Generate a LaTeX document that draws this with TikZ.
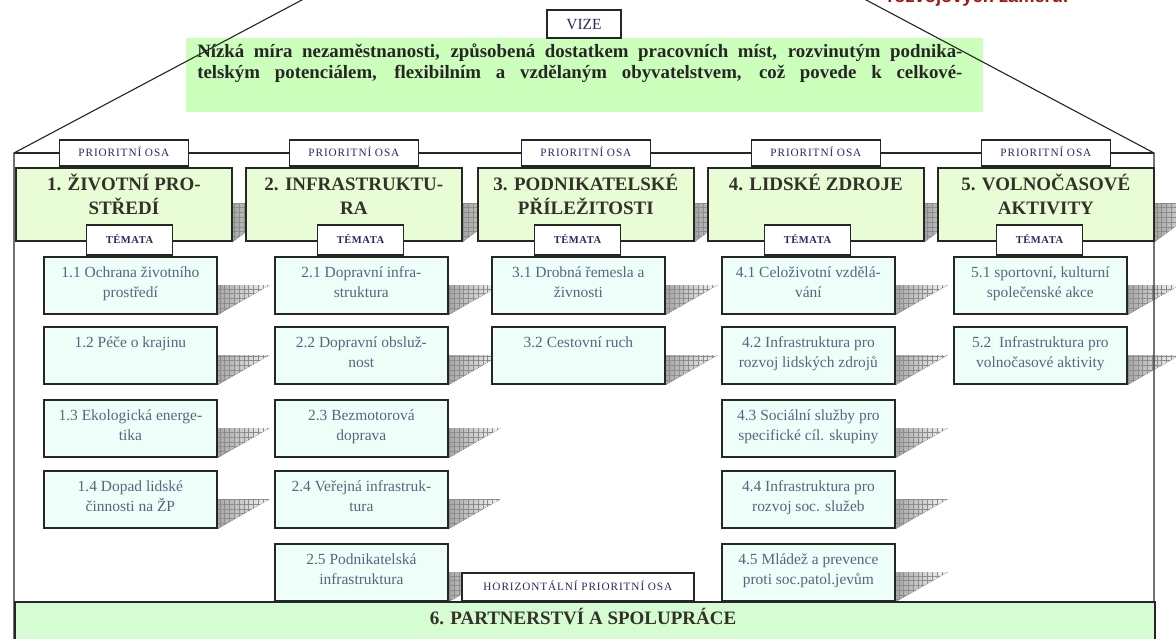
\documentclass[tikz,border=0pt]{standalone}
\usepackage{fontspec}
\setmainfont{Liberation Serif}
\newfontfamily\tabfont[LetterSpace=8]{Liberation Serif}
\newfontfamily\temfont[LetterSpace=5]{Liberation Serif}
\newfontfamily\redfont{Liberation Sans}
\usetikzlibrary{patterns,patterns.meta,calc}
\pgfdeclarelayer{bg}
\pgfsetlayers{bg,main}
\definecolor{visgreen}{RGB}{204,255,187}
\definecolor{hdrgreen}{RGB}{232,252,214}
\definecolor{themecyan}{RGB}{238,255,250}
\definecolor{bargreen}{RGB}{214,252,212}
\definecolor{themetext}{RGB}{90,100,125}
\definecolor{tabtext}{RGB}{40,40,100}
\definecolor{hdrtext}{RGB}{50,50,40}
\definecolor{redtext}{RGB}{160,20,20}
\newcommand\ThemeBox[5]{%
  \node[theme] (#1) at (#2,#3) {};
  \node[themetxt] (#1a) at ($(#1.north)+(0,21)$) {#4};
  \if\relax\detokenize{#5}\relax\else
  \node[themetxt] (#1b) at ($(#1.north)+(0,41)$) {#5};
  \fi}
\newcommand\HeadBox[5]{%
  \node[hdrbox] (#1) at (#2,167) {};
  \node[hdrtxt] (#1a) at ($(#1.north)+(0,23)$) {#3};
  \if\relax\detokenize{#4}\relax\else
  \node[hdrtxt] (#1b) at ($(#1.north)+(0,47)$) {#4};
  \fi
  \node[ptab] (#1p) at ($(#1.north)+(0,-14)$) {PRIORITNÍ OSA};
  \node[ttab] (#1t) at (#5,240) {TÉMATA};}
\begin{document}
\begin{tikzpicture}[x=0.025cm,y=-0.025cm,
  frame/.style={draw=black!85, line width=1.2pt, inner sep=0pt},
  hdrbox/.style={frame, fill=hdrgreen, anchor=north west, minimum width=5.4cm, minimum height=1.825cm},
  ptab/.style={frame, fill=white, minimum width=3.225cm, minimum height=0.65cm, font=\tabfont\fontsize{8}{9}\selectfont, text=tabtext, text height=5.6pt, text depth=0pt},
  ttab/.style={frame, fill=white, minimum width=2.15cm, minimum height=0.75cm, font=\temfont\bfseries\fontsize{7.5}{9}\selectfont, text=tabtext, text height=5.4pt, text depth=0pt},
  theme/.style={frame, fill=themecyan, anchor=north west, minimum width=4.325cm, minimum height=1.425cm},
  themetxt/.style={anchor=base, inner sep=0pt, font=\fontsize{11}{13}\selectfont, text=themetext},
  hdrtxt/.style={anchor=base, inner sep=0pt, font=\bfseries\fontsize{13.5}{16}\selectfont, text=hdrtext},
  shadowfill/.style={left color=black!35, right color=black!3, postaction={pattern={Hatch[angle=0,distance=3.4pt,line width=0.45pt]}, pattern color=black!45}},
  roof/.style={draw=black!85, line width=0.8pt},
]
\useasboundingbox (0,0) rectangle (1176,638);

% vision
\node[fill=visgreen, anchor=north west, minimum width=19.9cm, minimum height=1.85cm, inner sep=0pt] (vis) at (186,38) {};
\node[anchor=base west, inner sep=0pt, font=\bfseries\fontsize{13.4}{15}\selectfont, text=black!85] (v1) at (197,57)
  {\makebox[19.125cm][s]{Nízká míra nezaměstnanosti, způsobená dostatkem pracovních míst, rozvinutým podnika-}};
\node[anchor=base west, inner sep=0pt, font=\bfseries\fontsize{13.4}{15}\selectfont, text=black!85] (v2) at (197,78)
  {\makebox[19.125cm][s]{telským potenciálem, flexibilním a vzdělaným obyvatelstvem, což povede k celkové-}};
\node[frame, fill=white, minimum width=1.85cm, minimum height=0.7cm, font=\fontsize{11}{13}\selectfont, text=tabtext, text height=7.5pt, text depth=0pt] (vize) at (584,24) {VIZE};
\node[anchor=base west, inner sep=0pt, font=\redfont\bfseries\fontsize{13}{15}\selectfont, text=redtext] (red) at (887,2) {rozvojových záměrů.};

% house outline
\coordinate (apex) at (584,-150);
\coordinate (hl) at (14,153);
\coordinate (hr) at (1154,153);
\coordinate (bl) at (14,660);
\coordinate (br) at (1154,660);
\draw[roof] (bl) -- (hl) -- (apex) -- (hr) -- (br);
\draw[frame] (hl) -- (hr);

% headers
\HeadBox{h1}{15}{1. ŽIVOTNÍ PRO-}{STŘEDÍ}{129.5}
\HeadBox{h2}{245}{2. INFRASTRUKTU-}{RA}{360.5}
\HeadBox{h3}{477}{3. PODNIKATELSKÉ}{PŘÍLEŽITOSTI}{577.5}
\HeadBox{h4}{707}{4. LIDSKÉ ZDROJE}{}{807.5}
\HeadBox{h5}{937}{5. VOLNOČASOVÉ}{AKTIVITY}{1039.5}

% themes
\ThemeBox{t11}{43}{256}{1.1 Ochrana životního}{prostředí}
\ThemeBox{t12}{43}{326}{1.2 Péče o krajinu}{}
\ThemeBox{t13}{43}{399}{1.3 Ekologická energe-}{tika}
\ThemeBox{t14}{43}{470}{1.4 Dopad lidské}{činnosti na ŽP}
\ThemeBox{t21}{274}{256}{2.1 Dopravní infra-}{struktura}
\ThemeBox{t22}{274}{326}{2.2 Dopravní obsluž-}{nost}
\ThemeBox{t23}{274}{399}{2.3 Bezmotorová}{doprava}
\ThemeBox{t24}{274}{470}{2.4 Veřejná infrastruk-}{tura}
\ThemeBox{t25}{274}{543}{2.5 Podnikatelská}{infrastruktura}
\ThemeBox{t31}{491}{256}{3.1 Drobná řemesla a}{živnosti}
\ThemeBox{t32}{491}{326}{3.2 Cestovní ruch}{}
\ThemeBox{t41}{721}{256}{4.1 Celoživotní vzdělá-}{vání}
\ThemeBox{t42}{721}{326}{4.2 Infrastruktura pro}{rozvoj lidských zdrojů}
\ThemeBox{t43}{721}{399}{4.3 Sociální služby pro}{specifické cíl. skupiny}
\ThemeBox{t44}{721}{470}{4.4 Infrastruktura pro}{rozvoj soc. služeb}
\ThemeBox{t45}{721}{543}{4.5 Mládež a prevence}{proti soc.patol.jevům}
\ThemeBox{t51}{953}{256}{5.1 sportovní, kulturní}{společenské akce}
\ThemeBox{t52}{953}{326}{5.2 \ Infrastruktura pro}{volnočasové aktivity}

% horizontal axis
\node[ptab, anchor=north west, minimum width=5.8cm, minimum height=0.7cm] (htab) at (461,572) {HORIZONTÁLNÍ PRIORITNÍ OSA};
\node[frame, fill=bargreen, anchor=north west, minimum width=28.5cm, minimum height=1.5cm] (bar) at (14,601) {};
\node[hdrtxt] (bart) at (583,624) {6. PARTNERSTVÍ A SPOLUPRÁCE};

% shadows
\begin{pgfonlayer}{bg}
\foreach \n/\o in {h1/36,h2/36,h3/36,h4/36,h5/36,
  t11/29,t12/29,t13/29,t14/29,t21/29,t22/29,t23/29,t24/29,t25/29,
  t31/29,t32/29,t41/29,t42/29,t43/29,t44/29,t45/29,t51/29,t52/29}{
  \fill[shadowfill] ($(\n.north east)+(0,\o)$) -- ++(52,0) -- (\n.south east) -- cycle;
}
\end{pgfonlayer}
\end{tikzpicture}
\end{document}
